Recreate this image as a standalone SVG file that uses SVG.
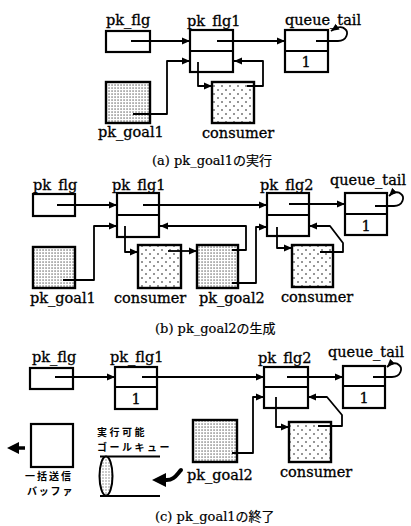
<svg xmlns="http://www.w3.org/2000/svg" width="411" height="526" viewBox="0 0 411 526">
<defs>
<pattern id="dense" width="3" height="3" patternUnits="userSpaceOnUse">
<rect width="3" height="3" fill="#fff"/>
<rect x="0.5" y="0.5" width="1.1" height="1.1" fill="#222"/>
</pattern>
<pattern id="sparse" width="8" height="8" patternUnits="userSpaceOnUse">
<rect width="8" height="8" fill="#fff"/>
<circle cx="2" cy="2" r="0.8" fill="#111"/>
<circle cx="6" cy="6" r="0.8" fill="#111"/>
</pattern>
<pattern id="qdots" width="3" height="3" patternUnits="userSpaceOnUse">
<rect width="3" height="3" fill="#fff"/>
<rect x="0.5" y="0.5" width="1" height="1" fill="#333"/>
</pattern>
<marker id="ah" markerUnits="userSpaceOnUse" markerWidth="9" markerHeight="8" refX="8" refY="4" orient="auto">
<path d="M0,0.5 L8,4 L0,7.5 z" fill="#000"/>
</marker>
</defs>
<style>
.box{fill:#fff;stroke:#000;stroke-width:2.2}
.dv{stroke:#000;stroke-width:2;fill:none}
.gd{fill:url(#dense);stroke:#000;stroke-width:2.4}
.cs{fill:url(#sparse);stroke:#000;stroke-width:2.4}
.lbl{font-family:"DejaVu Serif","Liberation Serif",serif;font-size:14.5px;fill:#000;stroke:#000;stroke-width:0.3}
.cap{font-family:"DejaVu Serif","Noto Sans CJK JP",serif;font-size:13px;fill:#000;stroke:#000;stroke-width:0.2}
.jp{font-family:"Noto Sans CJK JP",sans-serif;font-size:10px;font-weight:bold;fill:#000}
.c{fill:none;stroke:#000;stroke-width:1.8;stroke-linejoin:round;marker-end:url(#ah)}
</style>

<!-- ===== (a) ===== -->
<g id="a-pk_flg"><rect class="box" x="106" y="31" width="44" height="21"/><text class="lbl" x="106" y="25">pk_flg</text></g>
<g id="a-pk_flg1"><rect class="box" x="190" y="30" width="43" height="42"/><line class="dv" x1="190" y1="51" x2="233" y2="51"/><text class="lbl" x="187" y="26">pk_flg1</text></g>
<g id="a-queue_tail"><rect class="box" x="285" y="30" width="43" height="42"/><line class="dv" x1="285" y1="51" x2="328" y2="51"/><text class="lbl" x="306" y="67" text-anchor="middle">1</text><text class="lbl" x="285" y="25">queue_tail</text></g>
<g id="a-pk_goal1"><rect class="gd" x="106" y="82" width="44" height="41"/><text class="lbl" x="98" y="137">pk_goal1</text></g>
<g id="a-consumer"><rect class="cs" x="212" y="82" width="42" height="41"/><text class="lbl" x="202" y="138">consumer</text></g>
<text id="cap-a" class="cap" x="152" y="165">(a) pk_goal1の実行</text>

<!-- ===== (b) ===== -->
<g id="b-pk_flg"><rect class="box" x="33" y="194" width="42" height="22"/><text class="lbl" x="33" y="190">pk_flg</text></g>
<g id="b-pk_flg1"><rect class="box" x="117" y="193" width="42" height="44"/><line class="dv" x1="117" y1="215" x2="159" y2="215"/><text class="lbl" x="112" y="190">pk_flg1</text></g>
<g id="b-pk_flg2"><rect class="box" x="267" y="193" width="42" height="43"/><line class="dv" x1="267" y1="215" x2="309" y2="215"/><text class="lbl" x="260" y="190">pk_flg2</text></g>
<g id="b-queue_tail"><rect class="box" x="345" y="193" width="42" height="42"/><line class="dv" x1="345" y1="214" x2="387" y2="214"/><text class="lbl" x="366" y="231" text-anchor="middle">1</text><text class="lbl" x="330" y="185">queue_tail</text></g>
<g id="b-pk_goal1"><rect class="gd" x="33" y="247" width="42" height="41"/><text class="lbl" x="30" y="303">pk_goal1</text></g>
<g id="b-consumer1"><rect class="cs" x="138" y="245" width="43" height="43"/><text class="lbl" x="114" y="303">consumer</text></g>
<g id="b-pk_goal2"><rect class="gd" x="197" y="245" width="41" height="43"/><text class="lbl" x="199" y="303">pk_goal2</text></g>
<g id="b-consumer2"><rect class="cs" x="292" y="245" width="41" height="42"/><text class="lbl" x="281" y="302">consumer</text></g>
<text id="cap-b" class="cap" x="155" y="333">(b) pk_goal2の生成</text>

<!-- ===== (c) ===== -->
<g id="c-pk_flg"><rect class="box" x="30" y="368" width="43" height="21"/><text class="lbl" x="32" y="362">pk_flg</text></g>
<g id="c-pk_flg1"><rect class="box" x="115" y="367" width="42" height="42"/><line class="dv" x1="115" y1="387" x2="157" y2="387"/><text class="lbl" x="136" y="404" text-anchor="middle">1</text><text class="lbl" x="110" y="362">pk_flg1</text></g>
<g id="c-pk_flg2"><rect class="box" x="264" y="367" width="44" height="41"/><line class="dv" x1="264" y1="387" x2="308" y2="387"/><text class="lbl" x="258" y="363">pk_flg2</text></g>
<g id="c-queue_tail"><rect class="box" x="343" y="366" width="42" height="42"/><line class="dv" x1="343" y1="386" x2="385" y2="386"/><text class="lbl" x="364" y="403" text-anchor="middle">1</text><text class="lbl" x="328" y="357">queue_tail</text></g>
<g id="c-pk_goal2"><rect class="gd" x="193" y="420" width="44" height="42"/><text class="lbl" x="187" y="480">pk_goal2</text></g>
<g id="c-consumer"><rect class="cs" x="289" y="422" width="42" height="40"/><text class="lbl" x="280" y="477">consumer</text></g>
<g id="c-buffer"><rect class="box" x="31" y="424" width="42" height="43"/><text class="jp" x="25" y="480" letter-spacing="2">一括送信</text><text class="jp" x="27" y="494.5" letter-spacing="1.8">バッファ</text></g>
<g id="c-queue">
<text class="jp" x="97" y="436" letter-spacing="2.5">実行可能</text>
<text class="jp" x="97" y="450.5" letter-spacing="2.5">ゴールキュー</text>
<line x1="100" y1="456.5" x2="160" y2="456.5" stroke="#000" stroke-width="2"/>
<line x1="100" y1="496" x2="160" y2="496" stroke="#000" stroke-width="2"/>
<ellipse cx="106" cy="476" rx="6.5" ry="19.5" fill="url(#qdots)" stroke="#000" stroke-width="2"/>
</g>
<text id="cap-c" class="cap" x="155" y="521">(c) pk_goal1の終了</text>

<!-- ===== connectors ===== -->
<g id="connectors">
<!-- (a) -->
<path class="c" d="M131,41 H190"/>
<path class="c" d="M217,41 H285"/>
<path class="c" d="M316,41 H338 C347,41 349,32 345,29 C342,26 337,27 331,31"/>
<path class="c" d="M133,114 H167 V61 H190"/>
<path class="c" d="M198,62 V86 H212"/>
<path class="c" d="M247,86 H263 V61 H234"/>
<!-- (b) -->
<path class="c" d="M57,205 H117"/>
<path class="c" d="M143,205 H267"/>
<path class="c" d="M289,204 H345"/>
<path class="c" d="M375,206 H394 C403,206 405,197 401,194 C398,191 393,192 389,196"/>
<path class="c" d="M63,280 H94 V226 H117"/>
<path class="c" d="M125,226 V252 H138"/>
<path class="c" d="M168,251 H197"/>
<path class="c" d="M232,250 H246 V226 H160"/>
<path class="c" d="M232,283 H256 V227 H267"/>
<path class="c" d="M277,227 V248 H292"/>
<path class="c" d="M320,252 H343 V243 L330,226 H309"/>
<!-- (c) -->
<path class="c" d="M55,377 H115"/>
<path class="c" d="M142,377 H264"/>
<path class="c" d="M287,377 H343"/>
<path class="c" d="M373,377 H392 C401,377 403,368 399,365 C396,362 391,363 387,367"/>
<path class="c" d="M232,453 H253 V397 H264"/>
<path class="c" d="M276,397 V427 H289"/>
<path class="c" d="M318,426 H342 V415 L327,397 H308"/>
<!-- buffer output arrow -->
<path d="M25,448 H16" stroke="#000" stroke-width="3.5" fill="none"/>
<path d="M7,448 L19,442 L19,454 z" fill="#000"/>
<!-- thick arrow into queue -->
<path d="M181,470 C177,474 174,481 165,480" stroke="#000" stroke-width="4" fill="none" stroke-linecap="round"/>
<path d="M152,480 L166,473 L166,487 z" fill="#000"/>
</g>
</svg>
